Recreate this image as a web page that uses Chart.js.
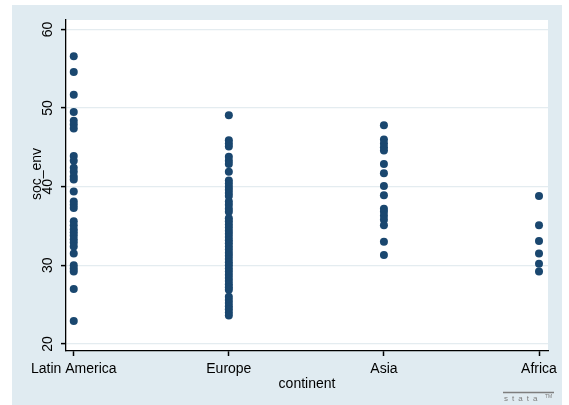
<!DOCTYPE html>
<html>
<head>
<meta charset="utf-8">
<title>soc_env by continent</title>
<script src="https://cdn.jsdelivr.net/npm/chart.js@4/dist/chart.umd.min.js"></script>
<style>
  html, body { margin: 0; padding: 0; background: #ffffff; }
  #wrap { width: 569px; height: 405px; }
</style>
</head>
<body>
<div id="wrap"><canvas id="chart" width="569" height="405"></canvas></div>
<script>
// Categories on the x axis
const continents = ["Latin America", "Europe", "Asia", "Africa"];

// soc_env values per continent
const latinAmerica = [56.6, 54.6, 51.7, 49.5, 48.4, 47.9, 47.4, 43.9, 43.3, 42.4, 41.9, 41.3, 40.9,
  39.4, 38.1, 37.7, 37.3, 35.6, 35.1, 34.6, 34.2, 33.8, 33.3, 32.9, 32.4, 31.5, 30.0, 29.6, 29.2,
  27.0, 22.9];
const europe = [49.1, 45.9, 45.5, 45.1, 43.8, 43.3, 42.9, 41.9, 40.8, 40.4, 40.0, 39.6, 39.2, 38.8,
  38.1, 37.7, 37.2, 36.8, 36.0, 35.6, 35.2, 34.8, 34.4, 34.0, 33.6, 33.2, 32.8, 32.4, 32.0, 31.6,
  31.2, 30.8, 30.4, 30.0, 29.6, 29.2, 28.8, 28.4, 28.0, 27.6, 27.2, 26.9, 26.0, 25.6, 25.2, 24.8,
  24.4, 24.0, 23.6];
const asia = [47.8, 46.0, 45.5, 45.0, 44.6, 42.9, 41.7, 40.1, 38.9, 37.2, 36.8, 36.3, 35.8, 35.1,
  33.0, 31.3];
const africa = [38.8, 35.1, 33.1, 31.5, 30.2, 29.2];

// Y axis tick values
const yTicks = [20, 30, 40, 50, 60];

const seriesByContinent = [latinAmerica, europe, asia, africa];
const points = [];
seriesByContinent.forEach((vals, i) => vals.forEach(v => points.push({ x: i + 1, y: v })));

const FONT = "'Liberation Sans', Arial, sans-serif";
const NAVY = "#1a476f";
const OUTER = "#e0ebf1";
const GRID = "#e4ecf0";

// Background panels: white margin, bluish graph region, white plot region
const panels = {
  id: "panels",
  beforeDraw(chart) {
    const { ctx, chartArea: a } = chart;
    ctx.save();
    ctx.fillStyle = "#ffffff";
    ctx.fillRect(0, 0, chart.width, chart.height);
    ctx.fillStyle = OUTER;
    ctx.fillRect(12, 5, 550, 400);
    ctx.fillStyle = "#ffffff";
    ctx.fillRect(a.left, a.top, a.right - a.left, a.bottom - a.top);
    ctx.restore();
  }
};

// Axis titles and the stata mark
const titles = {
  id: "titles",
  afterDraw(chart) {
    const { ctx, chartArea: a } = chart;
    ctx.save();
    ctx.fillStyle = "#000000";
    ctx.font = "14px " + FONT;
    ctx.textAlign = "center";
    ctx.textBaseline = "middle";
    ctx.fillText("continent", (a.left + a.right) / 2, 384);
    ctx.translate(37, 174);
    ctx.rotate(-Math.PI / 2);
    ctx.fillText("soc_env", 0, 0);
    ctx.restore();

    ctx.save();
    ctx.strokeStyle = "#7d7d7d";
    ctx.lineWidth = 1.5;
    ctx.beginPath();
    ctx.moveTo(503, 392.5);
    ctx.lineTo(554, 392.5);
    ctx.stroke();
    ctx.fillStyle = "#7d7d7d";
    ctx.font = "8px " + FONT;
    ctx.letterSpacing = "4px";
    ctx.textAlign = "left";
    ctx.textBaseline = "alphabetic";
    ctx.fillText("stata", 504, 401);
    ctx.letterSpacing = "0px";
    ctx.font = "5px " + FONT;
    ctx.fillText("TM", 545, 398);
    ctx.restore();
  }
};

new Chart(document.getElementById("chart"), {
  type: "scatter",
  data: {
    datasets: [{
      label: "soc_env",
      data: points,
      backgroundColor: NAVY,
      borderColor: NAVY,
      borderWidth: 0,
      pointRadius: 4,
      pointHoverRadius: 4
    }]
  },
  options: {
    responsive: false,
    devicePixelRatio: 1,
    animation: false,
    layout: { padding: { left: 0, top: 20, right: 21, bottom: 0 } },
    plugins: { legend: { display: false }, tooltip: { enabled: false } },
    scales: {
      x: {
        type: "linear",
        min: 0.95,
        max: 4.058,
        afterBuildTicks(scale) { scale.ticks = continents.map((c, i) => ({ value: i + 1 })); },
        afterFit(scale) { scale.height = 54; },
        grid: { drawOnChartArea: false, drawTicks: true, tickLength: 5, tickColor: "#000000", tickWidth: 1.5 },
        border: { color: "#000000", width: 1.3 },
        ticks: {
          color: "#000000",
          font: { family: FONT, size: 14 },
          padding: 5,
          maxRotation: 0,
          minRotation: 0,
          callback: (v) => continents[Math.round(v) - 1] || ""
        }
      },
      y: {
        type: "linear",
        min: 19.1,
        max: 61.2,
        afterBuildTicks(scale) { scale.ticks = yTicks.map(v => ({ value: v })); },
        afterFit(scale) { scale.width = 66; },
        grid: { color: GRID, lineWidth: 1.2, drawTicks: true, tickLength: 5, tickColor: "#000000", tickWidth: 1.5 },
        border: { color: "#000000", width: 1.3 },
        ticks: {
          color: "#000000",
          font: { family: FONT, size: 14 },
          padding: 5,
          minRotation: 90,
          maxRotation: 90,
          crossAlign: "center"
        }
      }
    }
  },
  plugins: [panels, titles]
});
</script>
</body>
</html>
